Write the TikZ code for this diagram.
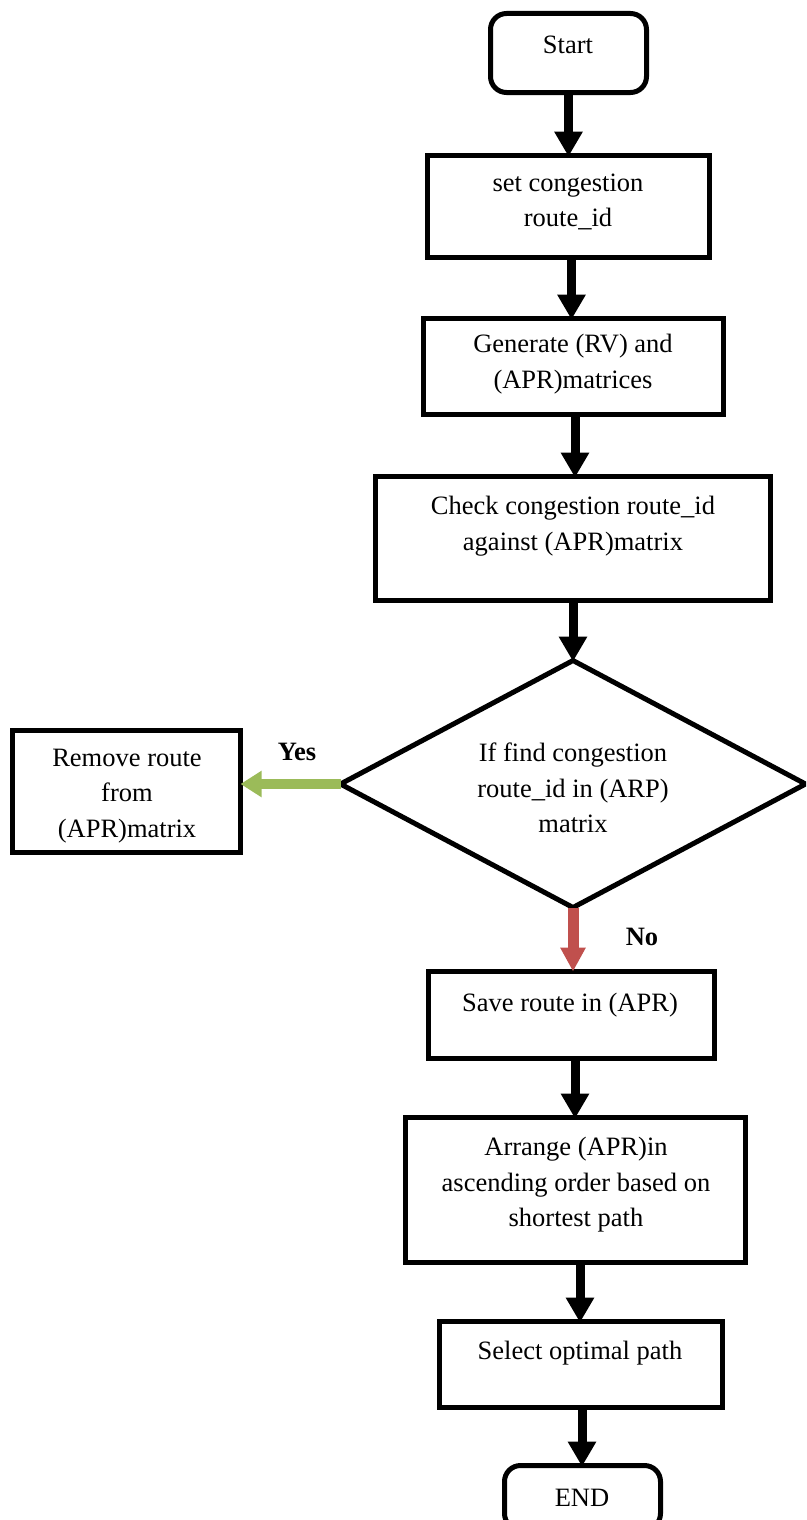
\documentclass[tikz,border=0pt]{standalone}
\usepackage{fontspec}
\setmainfont{Liberation Serif}
\usetikzlibrary{arrows.meta,shapes.geometric}

\definecolor{yesgreen}{RGB}{155,187,89}
\definecolor{nored}{RGB}{192,80,77}

\tikzset{
  box/.style={draw=black, line width=5pt, rectangle, inner sep=0pt, outer sep=0pt},
  roundbox/.style={box, rounded corners=16pt},
  decision/.style={draw=black, line width=5pt, diamond, inner sep=0pt, outer sep=0pt},
  txt/.style={align=center, inner sep=0pt, font=\fontsize{26.5}{35.5}\selectfont},
  lbl/.style={inner sep=0pt, font=\fontsize{26.5}{35.5}\selectfont\bfseries},
  flow/.style={line width=9pt, -{Triangle[length=25pt,width=27pt]}, shorten >=-1pt},
  yesarrow/.style={yesgreen, line width=10pt, -{Triangle[length=21pt,width=25pt]}},
  noarrow/.style={nored, line width=11pt, -{Triangle[length=24pt,width=24pt]}},
}

\begin{document}
\begin{tikzpicture}[x=1pt, y=-1pt]
  \useasboundingbox (0,0) rectangle (806,1520);
  \clip (0,0) rectangle (806,1520);

  % boxes of the flow chart
  \node[roundbox, minimum width=156, minimum height=79] (start) at (568.5,53) {};
  \node[box, minimum width=282, minimum height=102] (setid) at (568.5,206.5) {};
  \node[box, minimum width=300, minimum height=96] (gen) at (573.5,366.5) {};
  \node[box, minimum width=395, minimum height=124] (check) at (573,538.5) {};
  \node[decision, minimum width=465, minimum height=247] (find) at (573,784) {};
  \node[box, minimum width=228, minimum height=122] (remove) at (126.5,791.5) {};
  \node[box, minimum width=286, minimum height=87] (save) at (571.5,1015) {};
  \node[box, minimum width=340, minimum height=145] (arrange) at (575.5,1190) {};
  \node[box, minimum width=283, minimum height=86] (select) at (581,1364.5) {};
  \node[roundbox, minimum width=156, minimum height=64] (finish) at (582.5,1497.5) {};

  % texts
  \node[txt] at (568,45) {Start};
  \node[txt] at (568,202) {set congestion\\route\_id};
  \node[txt] at (573,364) {Generate (RV) and\\(APR)matrices};
  \node[txt] at (573,526) {Check congestion route\_id\\against (APR)matrix};
  \node[txt] at (573,788) {If find congestion\\route\_id in (ARP)\\matrix};
  \node[txt] at (127,796) {Remove route\\from\\(APR)matrix};
  \node[txt] at (570,1005) {Save route in (APR)};
  \node[txt] at (576,1185) {Arrange (APR)in\\ascending order based on\\shortest path};
  \node[txt] at (580,1353) {Select optimal path};
  \node[txt] at (582,1498) {END};

  \node[lbl] (yes) at (297,752) {Yes};
  \node[lbl] (no) at (642,937) {No};

  % connectors
  \draw[flow] (start.south) -- (start.south |- setid.north);
  \draw[flow] ([xshift=3pt]setid.south) -- ([xshift=3pt]setid.south |- gen.north);
  \draw[flow] ([xshift=1.5pt]gen.south) -- ([xshift=1.5pt]gen.south |- check.north);
  \draw[flow] (check.south) -- (find.north);
  \draw[yesarrow] (find.west) -- (find.west -| remove.east);
  \draw[noarrow] (find.south) -- (find.south |- save.north);
  \draw[flow] ([xshift=3.5pt]save.south) -- ([xshift=3.5pt]save.south |- arrange.north);
  \draw[flow] ([xshift=4.5pt]arrange.south) -- ([xshift=4.5pt]arrange.south |- select.north);
  \draw[flow] ([xshift=1pt]select.south) -- ([xshift=1pt]select.south |- finish.north);
\end{tikzpicture}
\end{document}
